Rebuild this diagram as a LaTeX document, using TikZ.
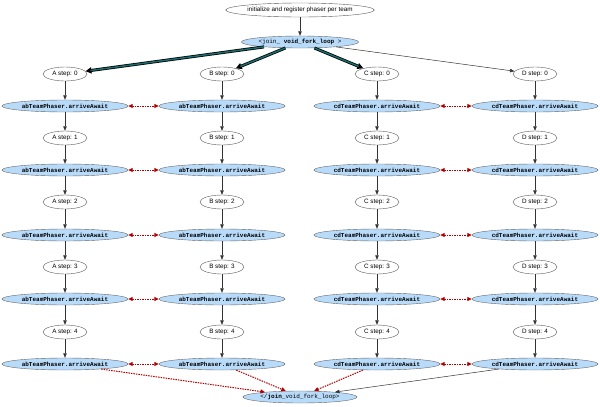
\documentclass[tikz,border=0pt]{standalone}
\usepackage{fontspec}
\setmainfont{Liberation Sans}
\setmonofont{Liberation Mono}
\usetikzlibrary{shapes.geometric,arrows.meta}

\definecolor{phaserblue}{HTML}{B9DBFA}
\definecolor{forkteal}{HTML}{1A6B6B}
\definecolor{syncred}{HTML}{B20000}

\tikzset{
  plainnode/.style={ellipse, draw=black!65, fill=white, inner sep=0pt,
    font=\fontsize{6.3}{7}\selectfont},
  stepnode/.style={plainnode, minimum width=44pt, minimum height=14pt},
  arrivenode/.style={ellipse, draw=black!60, fill=phaserblue, inner sep=0pt,
    minimum width=126pt, minimum height=12pt,
    font=\fontsize{6}{7}\selectfont\ttfamily\bfseries},
  loopnode/.style={arrivenode, minimum width=114pt, font=\fontsize{6}{7}\selectfont\ttfamily},
  flow/.style={draw=black!80, line width=0.5pt, -{Triangle[length=4.5pt,width=3.5pt]}},
  forkflow/.style={draw=black, line width=3pt, -{Triangle[length=6pt,width=6pt]},
    postaction={draw=forkteal, line width=1.5pt, -{}, shorten >=5pt}},
  syncflow/.style={draw=syncred, line width=1pt, dash pattern=on 1.5pt off 1pt,
    -{Triangle[length=4.5pt,width=4pt]}},
  syncpair/.style={syncflow, {Triangle[length=4.5pt,width=4pt]}-{Triangle[length=4.5pt,width=4pt]}}
}

\begin{document}
\begin{tikzpicture}[x=1pt,y=-1pt]
\useasboundingbox (0,0) rectangle (600,407);

% fork and join
\node[plainnode, minimum width=140pt, minimum height=14pt] (init) at (300,10) {initialize and register phaser per team};
\node[loopnode] (fork) at (300,42) {<join\_ \textbf{void\_fork\_loop} >};
\node[loopnode] (join) at (300,397) {</\textbf{join}\_void\_fork\_loop>};
\draw[flow] (init) -- (fork);

% four team columns
\foreach \c/\x/\t in {A/65/ab,B/222/ab,C/377/cd,D/535/cd}{
  \foreach \i/\ys/\ya in {0/74/106,1/138/170,2/202/235,3/267/299,4/332/364}{
    \node[stepnode] (step\c\i) at (\x,\ys) {\c{} step: \i};
    \node[arrivenode] (arr\c\i) at (\x,\ya) {\t TeamPhaser.arriveAwait};
    \draw[flow] (step\c\i) -- (arr\c\i);
  }
  \foreach \i/\j in {0/1,1/2,2/3,3/4}
    \draw[flow] (arr\c\i) -- (step\c\j);
}

% forked tasks
\draw[forkflow] (fork) -- (stepA0);
\draw[forkflow] (fork) -- (stepB0);
\draw[forkflow] (fork) -- (stepC0);
\draw[flow] (fork) -- (stepD0);

% phaser sync between teams
\foreach \i in {0,...,4}{
  \draw[syncpair] (arrA\i) -- (arrB\i);
  \draw[syncpair] (arrC\i) -- (arrD\i);
}

% back to join
\draw[syncflow] (arrA4) -- (join);
\draw[syncflow] (arrB4) -- (join);
\draw[syncflow] (arrC4) -- (join);
\draw[flow] (arrD4) -- (join);
\end{tikzpicture}
\end{document}
